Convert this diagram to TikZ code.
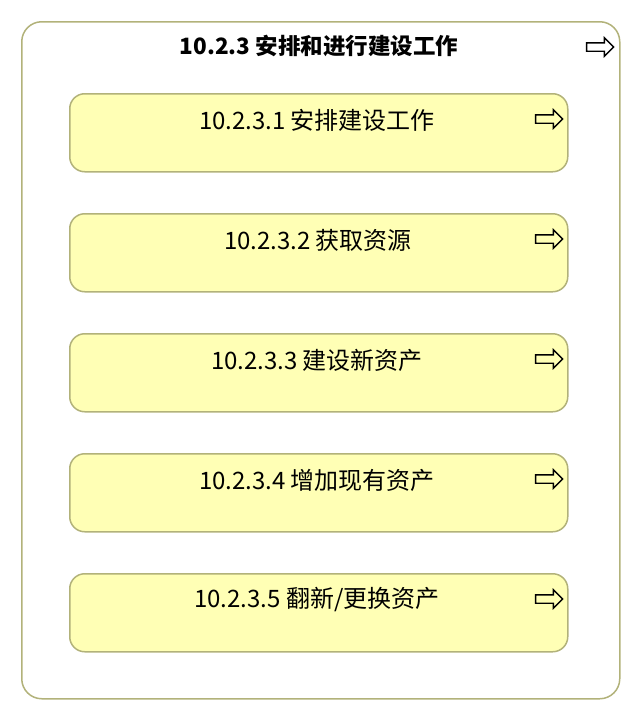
\documentclass[tikz,border=0pt]{standalone}
\usepackage{fontspec}
\setmainfont{Noto Sans CJK SC}
\usetikzlibrary{shapes.arrows}
\definecolor{boxfill}{HTML}{FFFFB5}
\definecolor{boxline}{HTML}{B2B27A}

\begin{document}
\begin{tikzpicture}[x=1pt, y=-1pt,
group/.style={draw=boxline, line width=1.5pt, rounded corners=20pt, minimum width=598pt, minimum height=677pt, anchor=north west, inner sep=0pt},
task/.style={draw=boxline, fill=boxfill, line width=1.5pt, rounded corners=15pt, minimum width=498pt, minimum height=78pt, anchor=north west, inner sep=0pt},
tasktext/.style={font=\fontsize{24}{28}\selectfont},
icon/.style={single arrow, draw=black, line width=1.4pt, minimum height=27pt, inner sep=3.5pt, single arrow head extend=5pt, single arrow head indent=0pt}]
\useasboundingbox (0,0) rectangle (640,720);
% Group
\node[group] (grp) at (21,21) {};
\node[tasktext, font=\fontsize{22.5}{26}\selectfont\bfseries] (grptext) at (319,46) {10.2.3 安排和进行建设工作};
\node[icon] (grpicon) at (598,47) {};
% Tasks
\node[task] (t1) at (69,93) {};
\node[task] (t2) at (69,213) {};
\node[task] (t3) at (69,333) {};
\node[task] (t4) at (69,453) {};
\node[task] (t5) at (69,573) {};
\node[tasktext] (t1text) at (317,120) {10.2.3.1 安排建设工作};
\node[tasktext] (t2text) at (318,240) {10.2.3.2 获取资源};
\node[tasktext] (t3text) at (317,360) {10.2.3.3 建设新资产};
\node[tasktext] (t4text) at (317,480) {10.2.3.4 增加现有资产};
\node[tasktext] (t5text) at (317,600) {10.2.3.5 翻新/更换资产};
% Icons
\node[icon] (t1icon) at (547,119) {};
\node[icon] (t2icon) at (547,239) {};
\node[icon] (t3icon) at (547,359) {};
\node[icon] (t4icon) at (547,479) {};
\node[icon] (t5icon) at (547,599) {};
\end{tikzpicture}
\end{document}
